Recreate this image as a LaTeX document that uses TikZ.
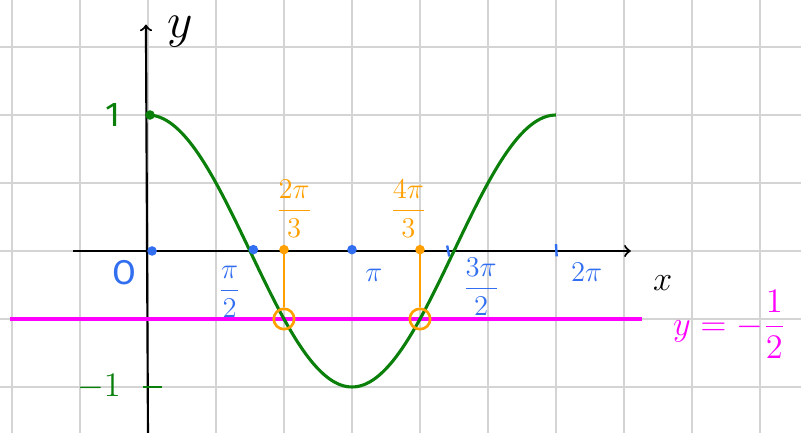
\documentclass[tikz,border=0pt]{standalone}
\usepackage{amsmath,amssymb}
\usepackage{xcolor}
\usepackage{fontspec}
\setmainfont{Fira Sans}
\definecolor{curvegreen}{RGB}{10,128,10}
\definecolor{markblue}{RGB}{50,110,240}
\definecolor{solorange}{RGB}{255,160,0}
\definecolor{linemagenta}{RGB}{255,0,255}
\tikzset{
    gridline/.style={line width=1pt, draw={rgb,255:red,212;green,212;blue,212}},
    bluelabel/.style={markblue, font=\large},
    orangelabel/.style={solorange, font=\large},
    hitcircle/.style={circle, draw=solorange, line width=1.1pt, minimum size=0.3cm, inner sep=0pt},
}

\begin{document}
\begin{tikzpicture}[x=1cm,y=1cm]
    \useasboundingbox (-2.176,-2.662) rectangle (9.603,3.691);
    % Grid
    \foreach \i in {-2,...,9}
        \draw[gridline] (\i,-2.7) -- (\i,3.7);
    \foreach \j in {-2,...,3}
        \draw[gridline] (-2.2,\j) -- (9.7,\j);

    % Axes
    \coordinate (xstart) at (-1.1,0);
    \coordinate (xend) at (7.1,0);
    \coordinate (ystart) at (0,-2.68);
    \coordinate (yend) at (-0.03,3.33);
    \draw[->, line width=0.9pt] (xstart) -- (xend);
    \draw[->, line width=0.9pt] (ystart) -- (yend);
    \node[font=\Large] (xlab) at (7.57,-0.47) {$x$};
    \node[font=\huge, inner sep=1pt] (ylab) at (0.47,3.22) {$y$};

    % Line y = -1/2
    \coordinate (mstart) at (-2.03,-1);
    \coordinate (mend) at (7.26,-1);
    \draw[linemagenta, line width=1.3pt] (mstart) -- (mend);
    \node[linemagenta, font=\Large] (mlab) at (8.55,-1.08) {$y=-\dfrac{1}{2}$};

    % Cosine curve
    \draw[domain=0:6, smooth, samples=80, variable=\x, line width=1.3pt, curvegreen] plot ({\x},{2*cos(60*\x)});
    \fill[curvegreen] (0.03,2) circle (2pt);
    \node[curvegreen, font=\Large] (one) at (-0.52,2) {1};
    \node[curvegreen, font=\Large] (minusone) at (-0.72,-2) {$-1$};
    \draw[curvegreen, line width=1pt] (-0.07,-2) -- (0.2,-2);

    % Marks on the x axis
    \fill[markblue] (0.06,0) circle (2pt);
    \fill[markblue] (1.55,0.02) circle (2pt);
    \fill[markblue] (3,0.02) circle (2pt);
    \draw[markblue, line width=1pt] (4.4,0.08) -- (4.43,-0.08);
    \draw[markblue, line width=1pt] (6,0.1) -- (6.01,-0.08);
    \node[bluelabel, font=\Large] (lo) at (-0.34,-0.32) {O};
    \node[bluelabel] (lpihalf) at (1.2,-0.6) {$\dfrac{\pi}{2}$};
    \node[bluelabel] (lpi) at (3.32,-0.36) {$\pi$};
    \node[bluelabel] (lthreepihalf) at (4.9,-0.52) {$\dfrac{3\pi}{2}$};
    \node[bluelabel] (ltwopi) at (6.45,-0.31) {$2\pi$};

    % Solutions
    \coordinate (dot1) at (2,0.02);
    \coordinate (dot2) at (4,0.02);
    \fill[solorange] (dot1) circle (2pt);
    \fill[solorange] (dot2) circle (2pt);
    \node[hitcircle] (hit1) at (2,-1) {};
    \node[hitcircle] (hit2) at (4,-1) {};
    \draw[solorange, line width=1pt] (dot1) -- (hit1);
    \draw[solorange, line width=1pt] (dot2) -- (hit2);
    \node[orangelabel] (ltwopithird) at (2.15,0.62) {$\dfrac{2\pi}{3}$};
    \node[orangelabel] (lfourpithird) at (3.83,0.62) {$\dfrac{4\pi}{3}$};
\end{tikzpicture}
\end{document}
